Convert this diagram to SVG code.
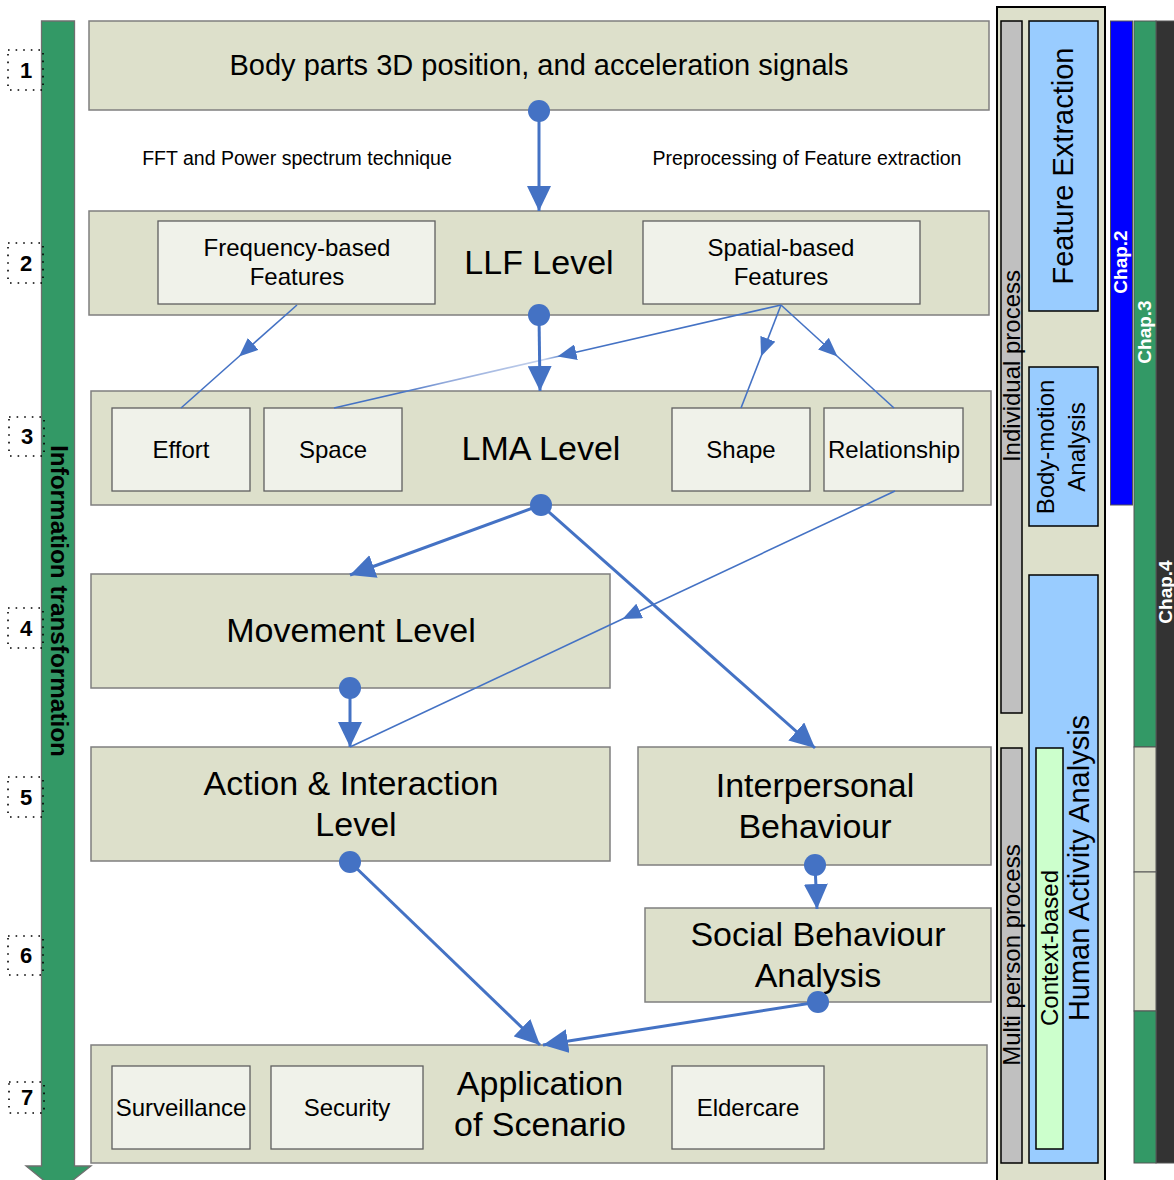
<svg xmlns="http://www.w3.org/2000/svg" width="1174" height="1180" viewBox="0 0 1174 1180">
<defs>
<style>
.node{fill:#dde0cb;stroke:#7f7f7f;stroke-width:1.5}
.sub{fill:#f0f2ea;stroke:#5f5f5f;stroke-width:1.3}
text{font-family:"Liberation Sans",Arial,sans-serif;fill:#000}
.big{font-size:34px;text-anchor:middle}
.mid{font-size:24px;text-anchor:middle}
.lab{font-size:19.5px;text-anchor:middle}
.num{font-size:22px;font-weight:bold;text-anchor:middle}
.dotbox{fill:none;stroke:#000;stroke-width:1.6;stroke-dasharray:1.6 6}
.thick{stroke:#4472c4;stroke-width:3;fill:none;marker-end:url(#ah)}
.thin{stroke:#4472c4;stroke-width:1.6;fill:none;marker-mid:url(#am)}
.dot{fill:#4472c4}
.gray{fill:#c0c0c0;stroke:#000;stroke-width:1.5}
.blue{fill:#99ccff;stroke:#000;stroke-width:1.5}
.chap{font-size:19px;font-weight:bold;fill:#fff;text-anchor:middle}
.side{text-anchor:middle}
</style>
<marker id="ah" markerUnits="userSpaceOnUse" markerWidth="26" markerHeight="24" refX="25" refY="12" orient="auto"><path d="M0,0 L25,12 L0,24 z" fill="#4472c4"/></marker>
<marker id="am" markerUnits="userSpaceOnUse" markerWidth="20" markerHeight="16" refX="19" refY="8" orient="auto"><path d="M0,0 L19,8 L0,16 z" fill="#4472c4"/></marker>
<linearGradient id="fade" gradientUnits="userSpaceOnUse" x1="781" y1="305" x2="334" y2="408">
<stop offset="0" stop-color="#4472c4"/>
<stop offset="0.48" stop-color="#4472c4"/>
<stop offset="0.53" stop-color="#c3d1ec"/>
<stop offset="0.75" stop-color="#93aadb"/>
<stop offset="0.85" stop-color="#4472c4"/>
<stop offset="1" stop-color="#4472c4"/>
</linearGradient>
</defs>
<rect width="1174" height="1180" fill="#fff"/>

<!-- left arrow -->
<g id="info-arrow">
<polygon points="41.5,21 74.5,21 74.5,1166 91,1166 58,1192 26,1166 41.5,1166" fill="#339966" stroke="#6f6f6f" stroke-width="1.3"/>
<text transform="translate(51,601) rotate(90)" text-anchor="middle" font-size="24.3" font-weight="bold">Information transformation</text>
</g>

<g id="step-numbers">
<rect class="dotbox" x="8" y="50" width="35" height="40"/><text class="num" x="26" y="78">1</text>
<rect class="dotbox" x="8" y="243" width="35" height="40"/><text class="num" x="26" y="271">2</text>
<rect class="dotbox" x="9" y="417" width="35" height="39"/><text class="num" x="27" y="444">3</text>
<rect class="dotbox" x="8" y="608" width="35" height="40"/><text class="num" x="26" y="636">4</text>
<rect class="dotbox" x="8" y="777" width="35" height="40"/><text class="num" x="26" y="805">5</text>
<rect class="dotbox" x="8" y="936" width="35" height="39"/><text class="num" x="26" y="963">6</text>
<rect class="dotbox" x="9" y="1082" width="35" height="31"/><text class="num" x="27" y="1105">7</text>
</g>

<!-- nodes -->
<g id="node-signals">
<rect class="node" x="89" y="21" width="900" height="89"/>
<text x="539" y="75" font-size="29" text-anchor="middle">Body parts 3D position, and acceleration signals</text>
</g>

<text class="lab" x="297" y="165">FFT and Power spectrum technique</text>
<text class="lab" x="807" y="165">Preprocessing of Feature extraction</text>

<g id="node-llf">
<rect class="node" x="89" y="211" width="900" height="104"/>
<text class="big" x="539" y="274">LLF Level</text>
</g>
<g id="node-freq">
<rect class="sub" x="158" y="221" width="277" height="83"/>
<text class="mid" x="297" y="256">Frequency-based</text>
<text class="mid" x="297" y="285">Features</text>
</g>
<g id="node-spatial">
<rect class="sub" x="643" y="221" width="277" height="83"/>
<text class="mid" x="781" y="256">Spatial-based</text>
<text class="mid" x="781" y="285">Features</text>
</g>

<g id="node-lma">
<rect class="node" x="91" y="391" width="900" height="114"/>
<text class="big" x="541" y="460">LMA Level</text>
</g>
<g id="node-effort"><rect class="sub" x="112" y="408" width="138" height="83"/><text class="mid" x="181" y="458">Effort</text></g>
<g id="node-space"><rect class="sub" x="264" y="408" width="138" height="83"/><text class="mid" x="333" y="458">Space</text></g>
<g id="node-shape"><rect class="sub" x="672" y="408" width="138" height="83"/><text class="mid" x="741" y="458">Shape</text></g>
<g id="node-relationship"><rect class="sub" x="824" y="408" width="139" height="83"/><text class="mid" x="894" y="458">Relationship</text></g>

<g id="node-movement">
<rect class="node" x="91" y="574" width="519" height="114"/>
<text class="big" x="351" y="642">Movement Level</text>
</g>

<g id="node-action">
<rect class="node" x="91" y="747" width="519" height="114"/>
<text class="big" x="351" y="795">Action &amp; Interaction</text>
<text class="big" x="356" y="836">Level</text>
</g>

<g id="node-interpersonal">
<rect class="node" x="638" y="747" width="353" height="118"/>
<text class="big" x="815" y="797">Interpersonal</text>
<text class="big" x="815" y="838">Behaviour</text>
</g>

<g id="node-social">
<rect class="node" x="645" y="908" width="346" height="94"/>
<text class="big" x="818" y="946">Social Behaviour</text>
<text class="big" x="818" y="987">Analysis</text>
</g>

<g id="node-application">
<rect class="node" x="91" y="1045" width="896" height="118"/>
<text class="big" x="540" y="1095">Application</text>
<text class="big" x="540" y="1136">of Scenario</text>
</g>
<g id="node-surveillance"><rect class="sub" x="112" y="1066" width="138" height="83"/><text class="mid" x="181" y="1116">Surveillance</text></g>
<g id="node-security"><rect class="sub" x="271" y="1066" width="152" height="83"/><text class="mid" x="347" y="1116">Security</text></g>
<g id="node-eldercare"><rect class="sub" x="672" y="1066" width="152" height="83"/><text class="mid" x="748" y="1116">Eldercare</text></g>

<!-- connectors -->
<g id="connectors">
<polyline class="thin" points="297,305 239,356.5 181,408"/>
<polyline class="thin" points="781,305 557.5,356.5 334,408" style="stroke:url(#fade)"/>
<polyline class="thin" points="781,305 761,356.5 741,408"/>
<polyline class="thin" points="781,305 837.5,356.5 894,408"/>
<polyline class="thin" points="895,491 622.5,619 350,747"/>
<path class="thick" d="M539,111 L539,211"/>
<path class="thick" d="M539,315 L540,391"/>
<path class="thick" d="M541,505 L350,575"/>
<path class="thick" d="M541,505 L815,748"/>
<path class="thick" d="M350,688 L350,747"/>
<path class="thick" d="M350,862 L540,1045"/>
<path class="thick" d="M815,865 L817,909"/>
<path class="thick" d="M818,1002 L543,1045"/>
<circle class="dot" cx="539" cy="111" r="11"/>
<circle class="dot" cx="539" cy="315" r="11"/>
<circle class="dot" cx="541" cy="505" r="11"/>
<circle class="dot" cx="350" cy="688" r="11"/>
<circle class="dot" cx="350" cy="862" r="11"/>
<circle class="dot" cx="815" cy="865" r="11"/>
<circle class="dot" cx="818" cy="1002" r="11"/>
</g>

<!-- right panel -->
<g id="process-panel">
<rect x="997" y="7" width="108" height="1185" fill="#dde0cb" stroke="#000" stroke-width="2"/>
<rect class="gray" x="1001" y="21" width="21" height="692"/>
<text class="side" font-size="24" transform="translate(1020,366) rotate(-90)">Individual process</text>
<rect class="gray" x="1001" y="748" width="21" height="415"/>
<text class="side" font-size="24" transform="translate(1020,955) rotate(-90)">Multi person process</text>
<rect class="blue" x="1029" y="21" width="69" height="290"/>
<text class="side" font-size="29" transform="translate(1073,166) rotate(-90)">Feature Extraction</text>
<rect class="blue" x="1029" y="367" width="69" height="159"/>
<text class="side" font-size="24" transform="translate(1054,447) rotate(-90)">Body-motion</text>
<text class="side" font-size="24" transform="translate(1085,447) rotate(-90)">Analysis</text>
<rect class="blue" x="1029" y="575" width="69" height="588"/>
<rect x="1036" y="748" width="27" height="401" fill="#ccffcc" stroke="#000" stroke-width="1.5"/>
<text class="side" font-size="24" transform="translate(1058,948) rotate(-90)">Context-based</text>
<text class="side" font-size="29" transform="translate(1089,868) rotate(-90)">Human Activity Analysis</text>
</g>

<g id="chapters">
<rect x="1156" y="21" width="20" height="1142" fill="#333333" stroke="#555" stroke-width="1"/>
<rect x="1134" y="21" width="22" height="726" fill="#339966" stroke="#555" stroke-width="1"/>
<rect x="1134" y="747" width="22" height="125" fill="#dde0cb" stroke="#555" stroke-width="1"/>
<rect x="1134" y="872" width="22" height="139" fill="#dde0cb" stroke="#555" stroke-width="1"/>
<rect x="1134" y="1011" width="22" height="152" fill="#339966" stroke="#555" stroke-width="1"/>
<rect x="1110.5" y="21" width="22" height="484" fill="#0000ff" stroke="#555" stroke-width="1"/>
<text class="chap" transform="translate(1127,262) rotate(-90)">Chap.2</text>
<text class="chap" transform="translate(1151,332) rotate(-90)">Chap.3</text>
<text class="chap" transform="translate(1172,592) rotate(-90)">Chap.4</text>
</g>
</svg>
